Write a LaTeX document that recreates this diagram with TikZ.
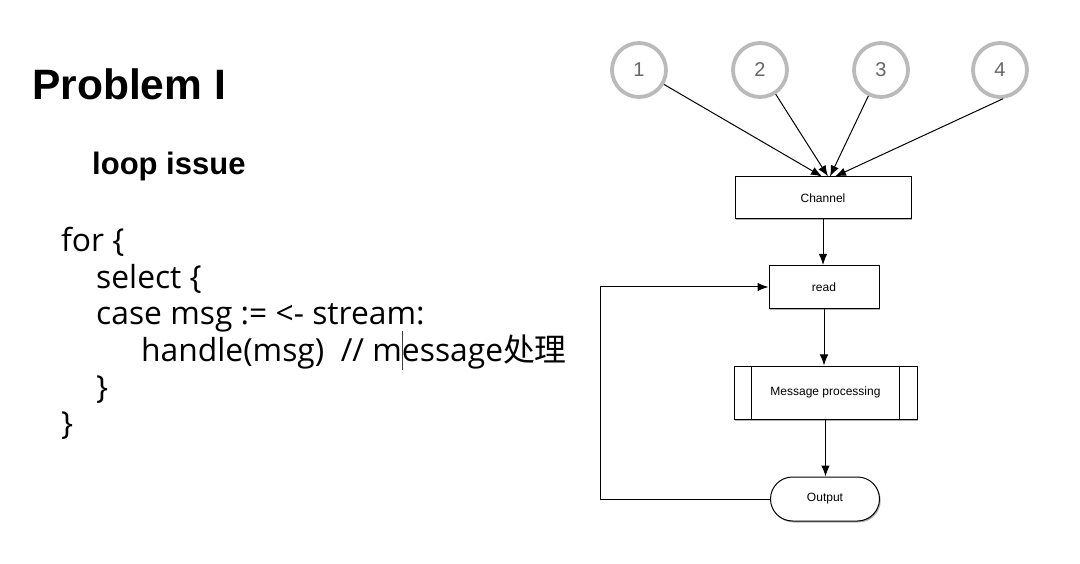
\documentclass[tikz,border=0pt]{standalone}
\usepackage{fontspec}
\setmainfont{Liberation Sans}
\newfontfamily\codefont{Open Sans}
\newfontfamily\cjk{Noto Sans CJK SC}
\usetikzlibrary{arrows.meta,shapes.misc,shadows}
\begin{document}
\begin{tikzpicture}[x=1pt,y=-1pt,
  box/.style={draw=black, line width=1pt, fill=white, inner sep=0pt,
    font=\fontsize{12}{14}\selectfont,
    drop shadow={shadow xshift=1.2pt,shadow yshift=-1.5pt,fill=black!60,opacity=.5}},
  num/.style={circle, draw=black!27, line width=3.8pt, minimum size=54pt, inner sep=0pt,
    font=\fontsize{20}{24}\selectfont, text=black!60},
  arr/.style={-{Latex[length=11pt,width=8.5pt]}, line width=1pt},
  code/.style={anchor=base west, inner sep=0pt, font=\codefont\fontsize{31.8}{38}\selectfont},
  title/.style={anchor=base west, inner sep=0pt, font=\bfseries\fontsize{42.5}{50}\selectfont}]
\useasboundingbox[fill=white] (0,0) rectangle (1080,564);

% left text
\node[title] (t1) at (32,100) {Problem I};
\node[title, font=\bfseries\fontsize{31}{37}\selectfont] (t2) at (92,175) {loop issue};
\node[code] (l1) at (61,252) {for \{};
\node[code] (l2) at (96,288.5) {select \{};
\node[code] (l3) at (96,325) {case msg := <- stream:};
\node[code] (l4) at (141,361.5) {handle(msg)\ \ // m\rlap{\textcolor{black!75}{\rule[-9pt]{0.6pt}{39pt}}}essage{\cjk 处理}};
\node[code] (l5) at (96,398) {\}};
\node[code] (l6) at (61,434.5) {\}};

% circles
\node[num] (c1) at (639,70) {1};
\node[num] (c2) at (760,70) {2};
\node[num] (c3) at (881,70) {3};
\node[num] (c4) at (1000,70) {4};

% boxes
\node[box, minimum width=176pt, minimum height=42pt] (ch) at (823,198) {Channel};
\node[box, minimum width=110pt, minimum height=43pt] (rd) at (824,287) {read};
\node[box, minimum width=183pt, minimum height=53pt] (mp) at (825.5,392.5) {Message processing};
\node[box, rounded rectangle, minimum width=109pt, minimum height=44pt] (out) at (825,499) {Output};
\draw[line width=1pt] ([xshift=18pt]mp.north west) -- ([xshift=18pt]mp.south west);
\draw[line width=1pt] ([xshift=-18pt]mp.north east) -- ([xshift=-18pt]mp.south east);

% connectors
\draw[arr] (c1.-30) -- ([xshift=-1pt]ch.north);
\draw[arr] (c2.-57) -- ([xshift=5pt]ch.north);
\draw[arr] (c3.-116) -- ([xshift=7pt]ch.north);
\draw[arr] (c4.-84) -- ([xshift=12pt]ch.north);
\draw[arr] (ch.south) -- (ch.south |- rd.north);
\draw[arr] (rd.south) -- (rd.south |- mp.north);
\draw[arr] (mp.south) -- (mp.south |- out.north);
\coordinate (lp) at (600,499);
\draw[arr] (out.west) -- (lp) |- (rd.west);
\end{tikzpicture}
\end{document}
